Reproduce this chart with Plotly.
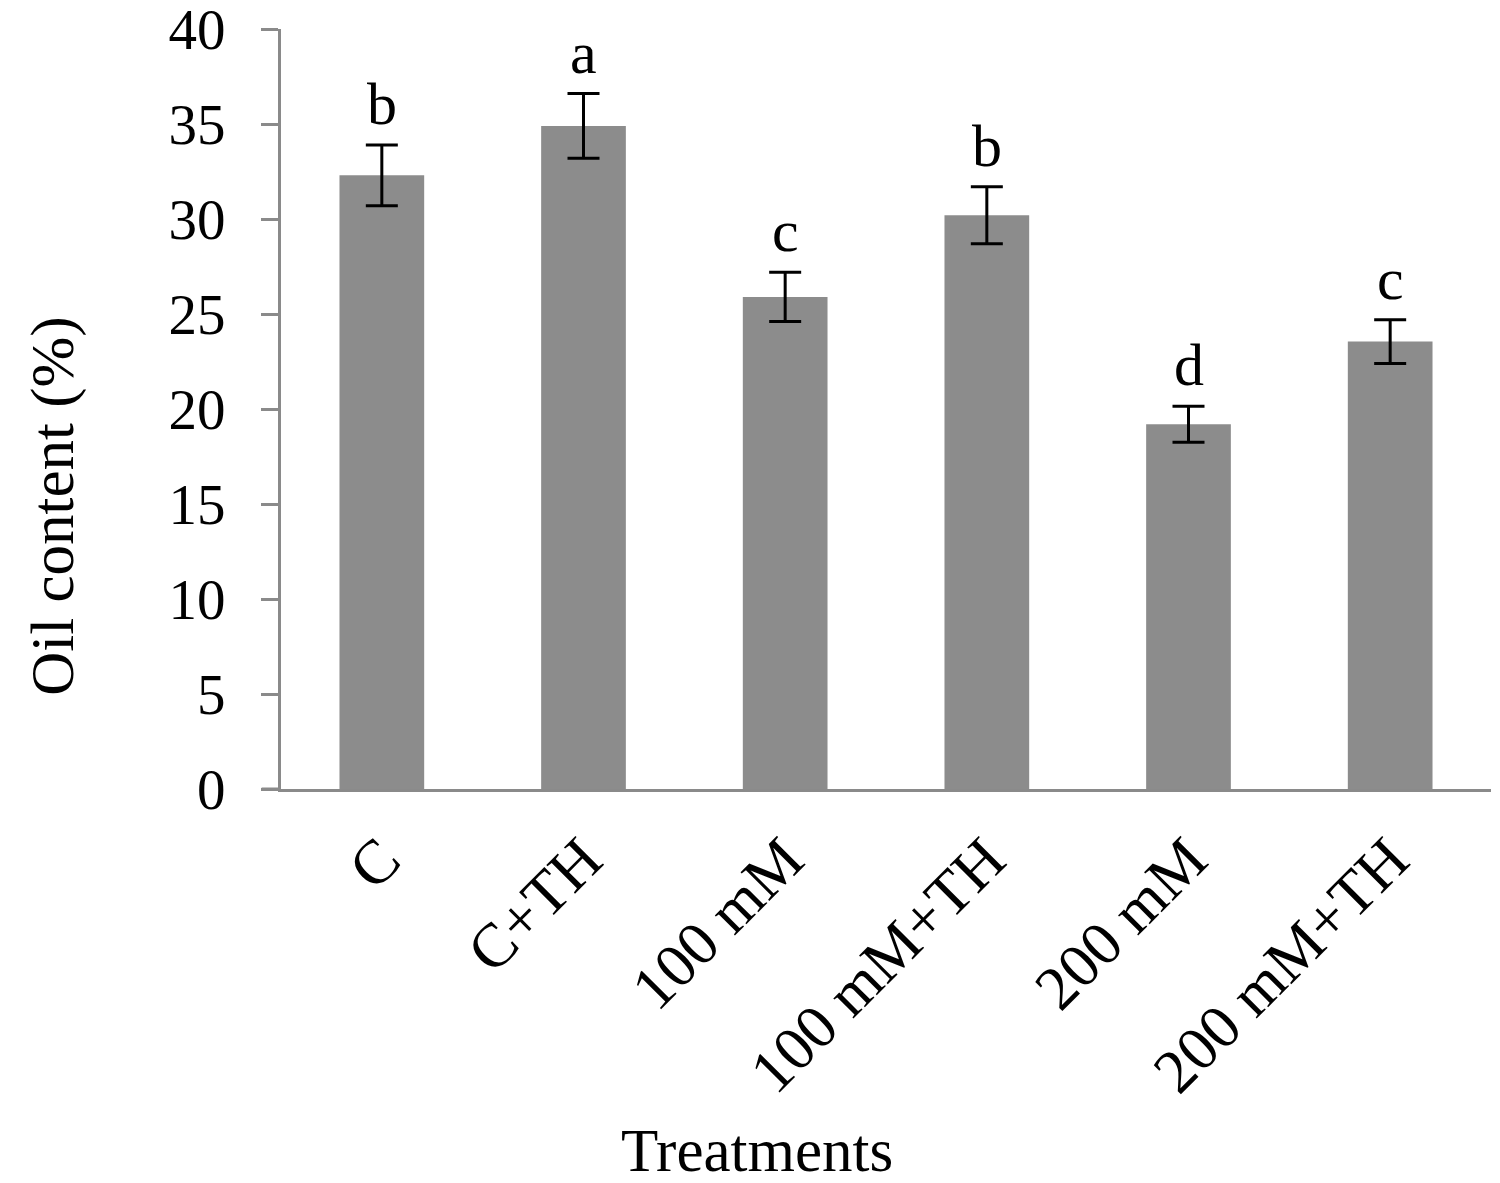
import plotly.graph_objects as go

# values
treatments = ["C", "C+TH", "100 mM", "100 mM+TH", "200 mM", "200 mM+TH"]
oil_content = [32.3, 34.9, 25.9, 30.2, 19.2, 23.55]
oil_se = [1.6, 1.7, 1.3, 1.5, 0.95, 1.15]
letters = ["b", "a", "c", "b", "d", "c"]

FONT = "Liberation Serif"
AXIS_GREY = "#8a8a8a"

fig = go.Figure()
fig.add_trace(go.Bar(
    x=treatments,
    y=oil_content,
    width=0.42,
    marker=dict(color="#8c8c8c", line=dict(width=0)),
    error_y=dict(type="data", array=oil_se, visible=True,
                 color="black", thickness=3, width=16),
    showlegend=False,
))

# significance letters above the error bars
for t, v, e, l in zip(treatments, oil_content, oil_se, letters):
    fig.add_annotation(x=t, y=v + e, text=l, showarrow=False,
                       yanchor="bottom", yshift=6,
                       font=dict(family=FONT, size=60, color="black"))

# axis titles placed as annotations to match the original positions
fig.add_annotation(text="Treatments", xref="paper", yref="paper",
                   x=0.393, y=-0.475, showarrow=False,
                   xanchor="center", yanchor="middle",
                   font=dict(family=FONT, size=61, color="black"))
fig.add_annotation(text="Oil content (%)", xref="paper", yref="paper",
                   x=-0.188, y=0.372, showarrow=False, textangle=-90,
                   xanchor="center", yanchor="middle",
                   font=dict(family=FONT, size=61, color="black"))

# little stub of the x axis running past the y axis (Excel style)
fig.add_shape(type="line", xref="paper", yref="paper",
              x0=-0.016, x1=0, y0=0, y1=0,
              line=dict(color=AXIS_GREY, width=3))

# page body has an 8px margin, so the figure is a bit smaller and shifted
fig.update_layout(
    width=1492, height=1175,
    margin=dict(l=273, r=9, t=21, b=394, autoexpand=False),
    plot_bgcolor="white", paper_bgcolor="white",
    font=dict(family=FONT, size=56, color="black"),
    bargap=0.58,
)
fig.update_xaxes(
    showline=True, linecolor=AXIS_GREY, linewidth=3,
    ticks="", tickangle=-45, showgrid=False, automargin=False,
    tickfont=dict(family=FONT, size=62, color="black"),
    ticklabelstandoff=6,
)
fig.update_yaxes(
    range=[0, 40], dtick=5, showgrid=False, zeroline=False,
    showline=True, linecolor=AXIS_GREY, linewidth=3, automargin=False,
    ticks="outside", ticklen=17, tickwidth=3, tickcolor=AXIS_GREY,
    tickfont=dict(family=FONT, size=57, color="black"),
    ticklabelstandoff=24, ticklabeloverflow="allow",
)

fig.write_html("out.html")
